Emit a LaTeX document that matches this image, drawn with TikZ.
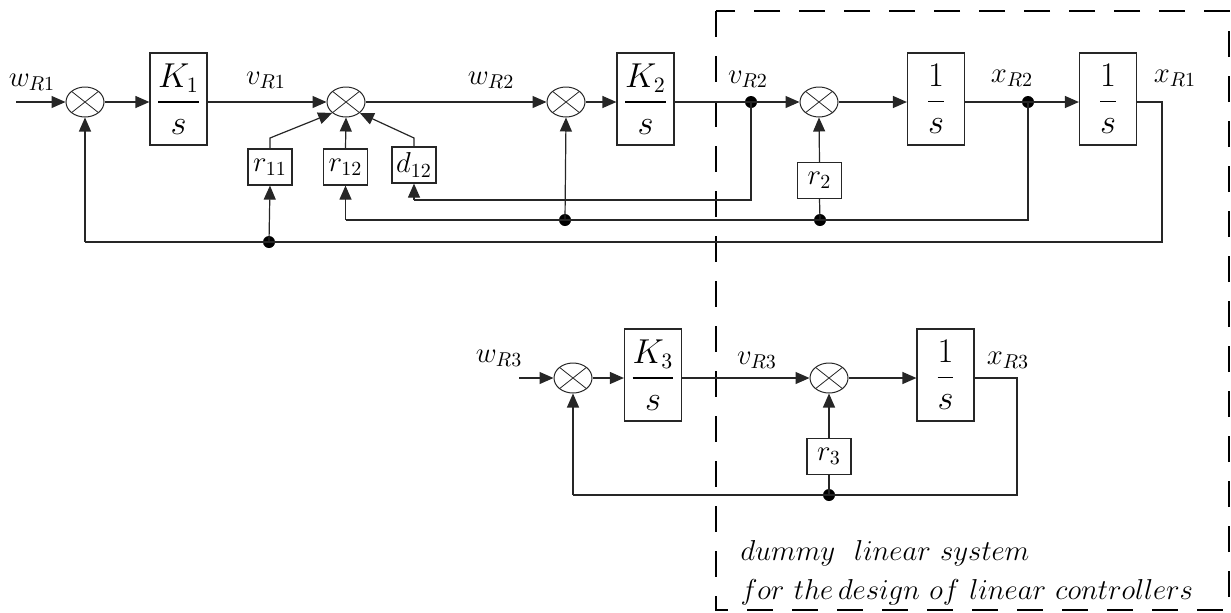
\documentclass[tikz,border=0pt]{standalone}
\usepackage{amsmath}
\usetikzlibrary{arrows.meta,shapes.geometric,calc}
\begin{document}
\begin{tikzpicture}[x=0.5pt,y=-0.5pt,
  font=\fontsize{14.4}{17}\selectfont,
  every path/.style={line width=0.5pt},
  sig/.style={draw=black!85,line width=0.6pt},
  arr/.style={sig,-{Triangle[length=7pt,width=6pt]}},
  tfbox/.style={draw=black!85,line width=0.6pt,minimum width=28.5pt,minimum height=46pt,inner sep=0pt,font=\fontsize{16}{19}\selectfont},
  gbox/.style={draw=black!85,line width=0.6pt,minimum width=22pt,minimum height=18pt,inner sep=0pt,font=\fontsize{14.8}{17}\selectfont},
  sumj/.style={ellipse,draw=black!85,line width=0.5pt,minimum width=19pt,minimum height=15pt,inner sep=0pt,
    path picture={\draw[black!85,line width=0.4pt] (path picture bounding box.north west) -- (path picture bounding box.south east)
      (path picture bounding box.north east) -- (path picture bounding box.south west);}},
  jdot/.style={circle,fill=black,inner sep=0pt,minimum size=6pt},
  lbl/.style={inner sep=0pt},
  frame/.style={draw=black,line width=1pt,dash pattern=on 13pt off 9.5pt}
]
\useasboundingbox (0,0) rectangle (1231,612);

% dashed frame
\draw[frame] (716,11) rectangle (1229,610);
\node[lbl,anchor=west] (t1) at (740,553) {$dummy\ \ linear\ system$};
\node[lbl,anchor=west] (t2) at (740,592) {$for\ the\,design\ of\ linear\ controllers$};

% ---- top row ----
\coordinate (in1) at (16,102);
\node[sumj] (s1) at (85,102) {};
\node[tfbox] (K1) at (178.5,99) {$\dfrac{K_1}{s}$};
\node[sumj] (s2) at (346,102) {};
\node[sumj] (s3) at (566,102) {};
\node[tfbox] (K2) at (645.5,99) {$\dfrac{K_2}{s}$};
\node[jdot] (dv2) at (751,102) {};
\node[sumj] (s4) at (819,102) {};
\node[tfbox] (I1) at (936,99) {$\dfrac{1}{s}$};
\node[jdot] (dx2) at (1028,102) {};
\node[tfbox] (I2) at (1108,99) {$\dfrac{1}{s}$};
\coordinate (o1) at (1162,102);
\coordinate (o1b) at (1162,242);
\coordinate (fb1) at (85,242);

\node[gbox] (r11) at (270,167) {$r_{11}$};
\node[gbox] (r12) at (345.5,167) {$r_{12}$};
\node[gbox] (d12) at (414,165) {$d_{12}$};
\node[gbox] (r2) at (819.5,180.5) {$r_{2}$};

\node[jdot] (da) at (269,242) {};
\node[jdot] (db) at (565,220) {};
\node[jdot] (dc) at (820,220) {};

\node[lbl] (lw1) at (32,82) {$w_{R1}$};
\node[lbl] (lv1) at (266,80) {$v_{R1}$};
\node[lbl] (lw2) at (491,80) {$w_{R2}$};
\node[lbl] (lv2) at (748,79) {$v_{R2}$};
\node[lbl] (lx2) at (1012,78) {$x_{R2}$};
\node[lbl] (lx1) at (1175,78) {$x_{R1}$};

\draw[arr] (in1) -- (s1.west);
\draw[arr] (s1.east) -- (s1 -| K1.west);
\draw[arr] (s1 -| K1.east) -- (s2.west);
\draw[arr] (s2.east) -- (s3.west);
\draw[arr] (s3.east) -- (s3 -| K2.west);
\draw[arr] (s3 -| K2.east) -- (s4.west);
\draw[arr] (s4.east) -- (s4 -| I1.west);
\draw[arr] (s4 -| I1.east) -- (s4 -| I2.west);
\draw[sig] (s4 -| I2.east) -- (o1) -- (o1b) -- (fb1);
\draw[arr] (fb1) -- (s1.south);
\draw[arr] (da.center) -- (r11.south);
% x_R2 feedback
\draw[sig] (dx2.center) |- (dc.center) -- (db.center) -- (345.5,220);
\draw[arr] (345.5,220) -- (r12.south);
\draw[arr] (db.center) -- (s3.south);
\draw[sig] (dc.center) -- (r2.south);
\draw[arr] (r2.north) -- (s4.south);
% v_R2 feedback
\draw[sig] (dv2.center) -- (751,200) -- (414,200);
\draw[arr] (414,200) -- (d12.south);
% gains into s2
\draw[arr] (r11.north) -- (270,138) -- (s2.south west);
\draw[arr] (r12.north) -- (s2.south);
\draw[arr] (d12.north) -- (414,138) -- (s2.south east);

% ---- bottom row ----
\coordinate (in3) at (519,378);
\node[sumj] (s5) at (573,378) {};
\node[tfbox] (K3) at (653,375) {$\dfrac{K_3}{s}$};
\node[sumj] (s6) at (829,378) {};
\node[tfbox] (I3) at (945.5,375) {$\dfrac{1}{s}$};
\coordinate (o3) at (1017,378);
\coordinate (o3b) at (1017,495);
\coordinate (fb3) at (573,495);
\node[gbox] (r3) at (829,456.5) {$r_{3}$};
\node[jdot] (dd) at (829,495) {};

\node[lbl] (lw3) at (499,358) {$w_{R3}$};
\node[lbl] (lv3) at (757,360) {$v_{R3}$};
\node[lbl] (lx3) at (1008,360) {$x_{R3}$};

\draw[arr] (in3) -- (s5.west);
\draw[arr] (s5.east) -- (s5 -| K3.west);
\draw[arr] (s5 -| K3.east) -- (s6.west);
\draw[arr] (s6.east) -- (s6 -| I3.west);
\draw[sig] (s6 -| I3.east) -- (o3) -- (o3b) -- (fb3);
\draw[arr] (fb3) -- (s5.south);
\draw[sig] (dd.center) -- (r3.south);
\draw[arr] (r3.north) -- (s6.south);
\end{tikzpicture}
\end{document}
